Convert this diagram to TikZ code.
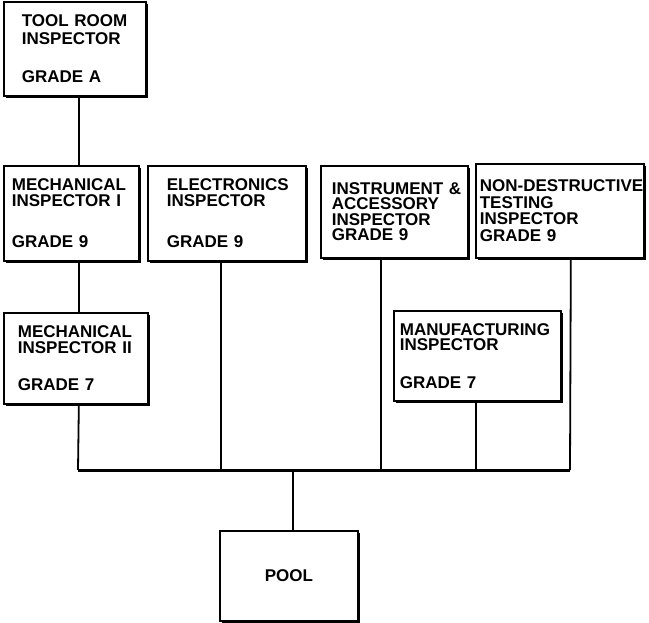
\documentclass[tikz,border=0pt]{standalone}
\usepackage{fontspec}
\setmainfont{Liberation Sans}
\usetikzlibrary{shadows}

\begin{document}
\begin{tikzpicture}[x=1pt, y=-1pt,
    box/.style={draw, line width=1.7pt, fill=white, anchor=north west, align=left,
        inner ysep=0pt, font=\bfseries\fontsize{17}{15.5}\selectfont,
        drop shadow={shadow xshift=1.8pt, shadow yshift=-1.8pt, fill=black, opacity=1}},
    link/.style={line width=1.8pt}]
    \useasboundingbox (0,0) rectangle (649,623);

    \node [box, font=\bfseries\fontsize{17}{18}\selectfont, minimum width=142pt, minimum height=94pt,
        text width=106pt, inner xsep=18pt] (tool) at (3,1)
        {TOOL~ROOM\\INSPECTOR\\[20pt]GRADE~A};
    \node [box, minimum width=135pt, minimum height=95pt, text width=119pt, inner xsep=8pt] (mechone) at (3,165)
        {MECHANICAL\\INSPECTOR~I\\[26pt]GRADE~9};
    \node [box, minimum width=158pt, minimum height=95pt, text width=120pt, inner xsep=19pt] (elec) at (147,165)
        {ELECTRONICS\\INSPECTOR\\[26pt]GRADE~9};
    \node [box, minimum width=147pt, minimum height=92pt, text width=125pt, inner xsep=11pt] (instr) at (320,165)
        {INSTRUMENT~\&\\ACCESSORY\\INSPECTOR\\GRADE~9\\[7pt]};
    \node [box, font=\bfseries\fontsize{17}{16.5}\selectfont, minimum width=168pt, minimum height=94pt,
        text width=160pt, inner xsep=4pt] (ndt) at (475,163)
        {\mbox{NON-DESTRUCTIVE}\\TESTING\\INSPECTOR\\GRADE~9\\[8pt]};
    \node [box, minimum width=144pt, minimum height=91pt, text width=116pt, inner xsep=14pt] (mechtwo) at (3,312)
        {MECHANICAL\\INSPECTOR~II\\[22pt]GRADE~7};
    \node [box, minimum width=167pt, minimum height=90pt, text width=155pt, inner xsep=6pt] (manuf) at (393,310)
        {MANUFACTURING\\INSPECTOR\\[22pt]GRADE~7};
    \node [box, minimum width=138pt, minimum height=90pt, align=center] (pool) at (219,530) {POOL};

    % bus line
    \coordinate (busL) at (78,470);
    \coordinate (busR) at (570,470);
    \draw [line width=3pt] (busL) -- (busR);

    \draw [link] ([xshift=4pt]tool.south) -- ([xshift=7.5pt]mechone.north);
    \draw [link] ([xshift=7.5pt]mechone.south) -- ([xshift=3pt]mechtwo.north);
    \draw [link] ([xshift=3pt]mechtwo.south) -- (busL);
    \draw [link] ([xshift=-6pt]elec.south) -- ([xshift=-6pt]elec.south |- busL);
    \draw [link] ([xshift=-13.5pt]instr.south) -- ([xshift=-13.5pt]instr.south |- busL);
    \draw [link] ([xshift=-1.5pt]manuf.south) -- ([xshift=-1.5pt]manuf.south |- busL);
    \draw [link] ([xshift=11pt]ndt.south) -- (busR);
    \draw [link] ([xshift=4pt]pool.north |- busL) -- ([xshift=4pt]pool.north);
\end{tikzpicture}
\end{document}
